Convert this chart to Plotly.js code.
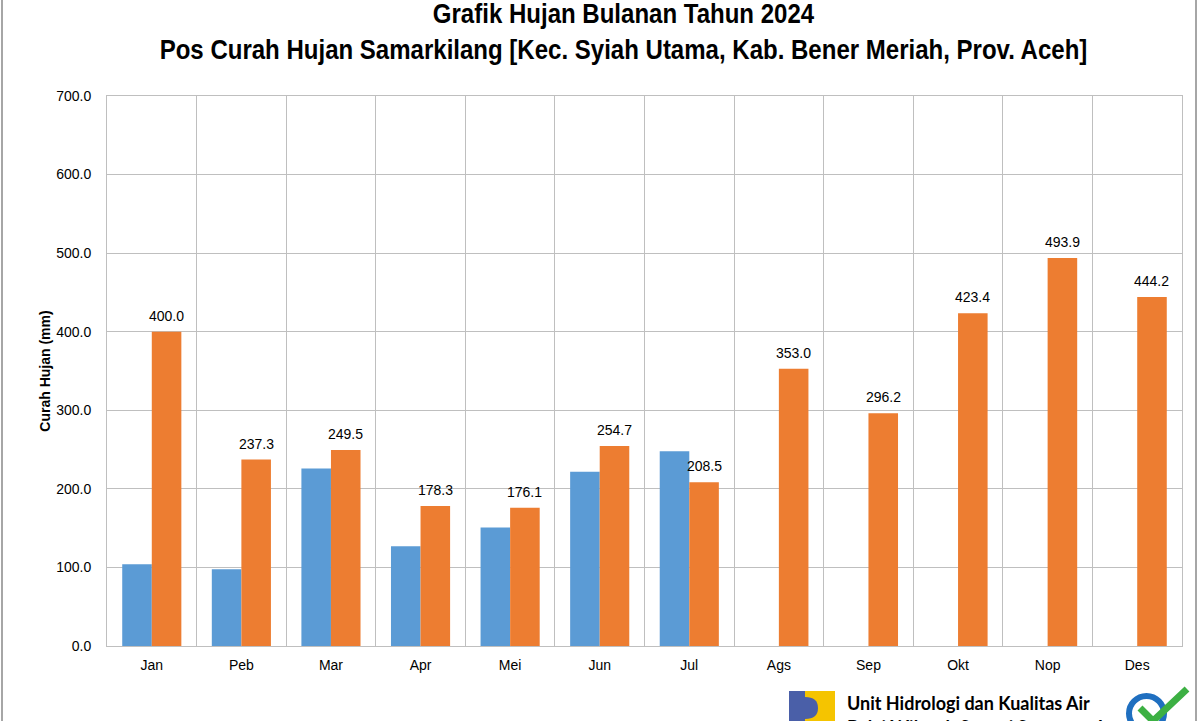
<!DOCTYPE html>
<html>
<head>
<meta charset="utf-8">
<script src="https://cdn.plot.ly/plotly-3.0.1.min.js"></script>
<style>
html,body{margin:0;padding:0;background:#fff;}
#chart{width:1200px;height:721px;}
</style>
</head>
<body>
<div id="chart"></div>
<script>
var months = ["Jan","Peb","Mar","Apr","Mei","Jun","Jul","Ags","Sep","Okt","Nop","Des"];
var hujanTerukur = [104.0, 97.7, 225.9, 127.0, 150.8, 221.8, 248.0, null, null, null, null, null];
var hujanRerata = [400.0, 237.3, 249.5, 178.3, 176.1, 254.7, 208.5, 353.0, 296.2, 423.4, 493.9, 444.2];
var yTicks = [0, 100, 200, 300, 400, 500, 600, 700];
var titleLines = ["Grafik Hujan Bulanan Tahun 2024", "Pos Curah Hujan Samarkilang [Kec. Syiah Utama, Kab. Bener Meriah, Prov. Aceh]"];
var footerLines = ["Unit Hidrologi dan Kualitas Air", "Balai Wilayah Sungai Sumatera I"];

var W = 1200, H = 721;
var M = {l: 107, r: 18, t: 96, b: 75};
var PW = W - M.l - M.r, PH = H - M.t - M.b;
var BARGAP = 0.34;
function px(x){ return (x - M.l) / PW; }
function py(y){ return (H - M.b - y) / PH; }

var arial = "Liberation Sans, Arial, sans-serif";

var traces = [
  {
    type: "bar", x: months, y: hujanTerukur, name: "Terukur",
    marker: {color: "#5B9BD5"}, hoverinfo: "x+y"
  },
  {
    type: "bar", x: months, y: hujanRerata, name: "Rerata",
    marker: {color: "#ED7D31"}, hoverinfo: "x+y"
  }
];

// data labels above the orange bars
var barHalfOffset = (PW / months.length) * (1 - BARGAP) / 4;
var annotations = months.map(function(m, i){
  return {
    x: m, y: hujanRerata[i], xref: "x", yref: "y",
    xshift: barHalfOffset, yshift: 6, yanchor: "bottom", xanchor: "center",
    text: hujanRerata[i].toFixed(1), showarrow: false,
    font: {family: arial, size: 14, color: "#000"}
  };
});
annotations.push(
  {xref: "paper", yref: "paper", x: px(845), y: py(703), xanchor: "left", yanchor: "middle",
   text: "<b>" + footerLines[0] + "</b>", showarrow: false,
   font: {family: "Lato, Open Sans, sans-serif", size: 18, color: "#000"}},
  {xref: "paper", yref: "paper", x: px(845), y: py(727), xanchor: "left", yanchor: "middle",
   text: "<b>" + footerLines[1] + "</b>", showarrow: false,
   font: {family: "Lato, Open Sans, sans-serif", size: 18, color: "#000"}}
);

var shapes = [
  {type: "rect", xref: "paper", yref: "paper", x0: px(2), x1: px(1196), y0: py(760), y1: py(-40),
   line: {color: "#a6a6a6", width: 2}, fillcolor: "rgba(0,0,0,0)", layer: "below"},
  {type: "rect", xref: "paper", yref: "paper", x0: px(789), x1: px(805), y0: py(730), y1: py(691),
   line: {width: 0}, fillcolor: "#4a5fa8"},
  {type: "rect", xref: "paper", yref: "paper", x0: px(805), x1: px(835), y0: py(730), y1: py(691),
   line: {width: 0}, fillcolor: "#f5c400"},
  {type: "path", xref: "paper", yref: "paper",
   path: "M " + px(805) + "," + py(697) + " Q " + px(818) + "," + py(697) + " " + px(818) + "," + py(708) +
         " Q " + px(818) + "," + py(719) + " " + px(805) + "," + py(719) + " Z",
   line: {width: 0}, fillcolor: "#4a5fa8"},
  {type: "circle", xref: "paper", yref: "paper", x0: px(1129), x1: px(1164), y0: py(731), y1: py(696),
   line: {color: "#1f6fc0", width: 6}, fillcolor: "rgba(0,0,0,0)"},
  {type: "path", xref: "paper", yref: "paper",
   path: "M " + px(1140) + "," + py(708) + " L " + px(1153) + "," + py(721) + " L " + px(1187) + "," + py(689),
   line: {color: "#3cb043", width: 7}}
];

var layout = {
  width: W, height: H,
  margin: M,
  paper_bgcolor: "#fff", plot_bgcolor: "#fff",
  showlegend: false,
  barmode: "group", bargap: BARGAP, bargroupgap: 0,
  title: {
    text: "<b>" + titleLines[0] + "</b><br><b>" + titleLines[1] + "</b>",
    font: {family: arial, size: 27, color: "#000"},
    x: 623.5 / W, xref: "container", xanchor: "center",
    y: 0.9675, yref: "container", yanchor: "top"
  },
  xaxis: {
    type: "category", tickson: "boundaries",
    showgrid: true, gridcolor: "#bfbfbf", gridwidth: 1,
    showline: true, linecolor: "#bfbfbf", linewidth: 1, mirror: true,
    ticks: "", ticklabelstandoff: 6,
    tickfont: {family: arial, size: 14, color: "#000"},
    fixedrange: true
  },
  yaxis: {
    range: [0, 700], tickvals: yTicks,
    ticktext: yTicks.map(function(v){ return v.toFixed(1); }),
    showgrid: true, gridcolor: "#bfbfbf", gridwidth: 1, zeroline: false,
    showline: true, linecolor: "#bfbfbf", linewidth: 1, mirror: true,
    ticks: "", ticklabelstandoff: 12,
    tickfont: {family: arial, size: 14, color: "#000"},
    title: {text: "<b>Curah Hujan (mm)</b>", standoff: 2,
            font: {family: arial, size: 14, color: "#000"}},
    fixedrange: true
  },
  shapes: shapes,
  annotations: annotations
};

function condenseTitle(){
  var t = document.querySelector("#chart .gtitle");
  if (!t || t.getAttribute("data-condensed")) return;
  var cx = parseFloat(t.getAttribute("x")) || W / 2;
  var existing = t.getAttribute("transform") || "";
  t.setAttribute("transform", existing + " translate(" + cx + ",0) scale(0.89,1) translate(" + (-cx) + ",0)");
  t.setAttribute("data-condensed", "1");
}

Plotly.newPlot("chart", traces, layout, {displayModeBar: false, staticPlot: true}).then(condenseTitle);
</script>
</body>
</html>
